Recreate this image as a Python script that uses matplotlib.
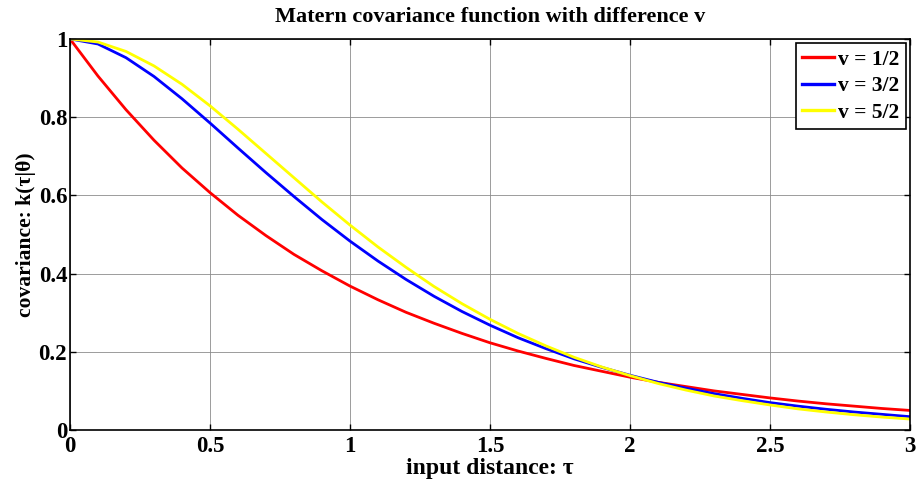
import matplotlib.pyplot as plt

# values at steps of 0.1
tau = [0.0, 0.1, 0.2, 0.3, 0.4, 0.5, 0.6, 0.7, 0.8, 0.9, 1.0,
       1.1, 1.2, 1.3, 1.4, 1.5, 1.6, 1.7, 1.8, 1.9, 2.0,
       2.1, 2.2, 2.3, 2.4, 2.5, 2.6, 2.7, 2.8, 2.9, 3.0]
k_12 = [1.000, 0.905, 0.819, 0.741, 0.670, 0.607, 0.549, 0.497, 0.449, 0.407, 0.368,
        0.333, 0.301, 0.273, 0.247, 0.223, 0.202, 0.183, 0.165, 0.150, 0.135,
        0.122, 0.111, 0.100, 0.091, 0.082, 0.074, 0.067, 0.061, 0.055, 0.050]
k_32 = [1.000, 0.987, 0.952, 0.904, 0.847, 0.785, 0.721, 0.658, 0.597, 0.538, 0.483,
        0.432, 0.385, 0.342, 0.303, 0.268, 0.236, 0.208, 0.182, 0.160, 0.140,
        0.122, 0.107, 0.093, 0.081, 0.070, 0.061, 0.053, 0.046, 0.040, 0.034]
k_52 = [1.000, 0.992, 0.968, 0.931, 0.884, 0.829, 0.769, 0.707, 0.645, 0.583, 0.524,
        0.468, 0.416, 0.367, 0.323, 0.283, 0.247, 0.215, 0.186, 0.161, 0.139,
        0.119, 0.102, 0.087, 0.075, 0.064, 0.054, 0.046, 0.039, 0.033, 0.028]
labels = ['v = 1/2', 'v = 3/2', 'v = 5/2']
colores = ['#ff0000', '#0000ff', '#ffff00']

plt.rcParams['font.family'] = ['Liberation Serif', 'DejaVu Serif']
plt.rcParams['font.weight'] = 'bold'

fig = plt.figure(figsize=(9.16, 4.84), dpi=100)
ax = fig.add_axes([0.0764, 0.1116, 0.917, 0.808])

for serie, lab, cor in zip([k_12, k_32, k_52], labels, colores):
    ax.plot(tau, serie, color=cor, linewidth=2.0, label=lab)

ax.set_xlim(0, 3)
ax.set_ylim(0, 1)
ax.set_xticks([0, 0.5, 1, 1.5, 2, 2.5, 3])
ax.set_xticklabels(['0', '0.5', '1', '1.5', '2', '2.5', '3'])
ax.set_yticks([0, 0.2, 0.4, 0.6, 0.8, 1])
ax.set_yticklabels(['0', '0.2', '0.4', '0.6', '0.8', '1'])
ax.grid(True, color='#8c8c8c', linewidth=0.6)
ax.tick_params(direction='in', top=True, right=True, length=4, width=1,
               labelsize=16.5, pad=2)
ax.tick_params(axis='x', pad=4)
for sp in ax.spines.values():
    sp.set_linewidth(1.2)

ax.set_title('Matern covariance function with difference v', fontsize=16,
             fontweight='bold', pad=12)
ax.set_xlabel('input distance: \u03c4', fontsize=17, fontweight='bold', labelpad=1)
ax.set_ylabel('covariance: k(\u03c4|\u03b8)', fontsize=15.5, fontweight='bold', labelpad=2)

leg = ax.legend(loc='upper right', fancybox=False, framealpha=1, edgecolor='black',
                fontsize=15.5, handlelength=1.45, handletextpad=0.2,
                borderaxespad=0.2, labelspacing=0.3, borderpad=0.3)
leg.get_frame().set_linewidth(1.2)
for ln in leg.get_lines():
    ln.set_linewidth(2.4)

plt.savefig('out.png', dpi=100)
